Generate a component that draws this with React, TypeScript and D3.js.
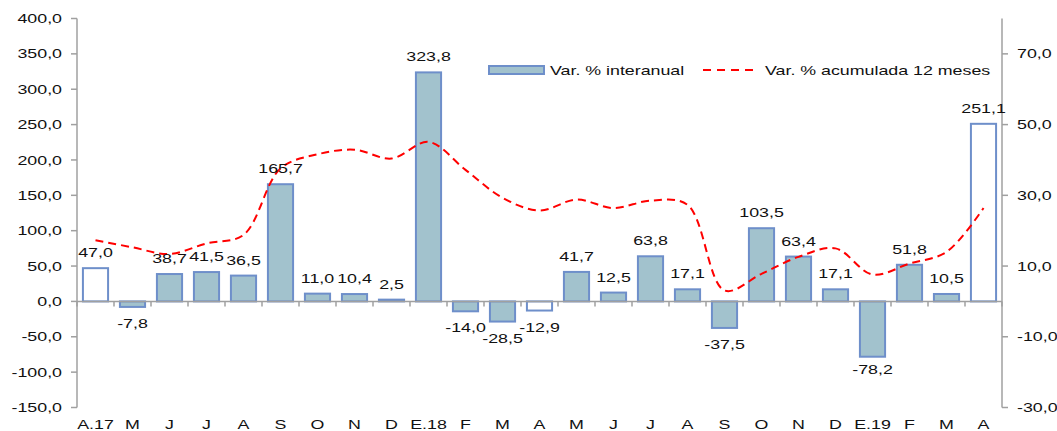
import * as d3 from 'd3';

// months Apr 2017 .. Apr 2019
const categories = ['A.17', 'M', 'J', 'J', 'A', 'S', 'O', 'N', 'D', 'E.18', 'F', 'M', 'A', 'M', 'J', 'J', 'A', 'S', 'O', 'N', 'D', 'E.19', 'F', 'M', 'A'];
const interanual = [47.0, -7.8, 38.7, 41.5, 36.5, 165.7, 11.0, 10.4, 2.5, 323.8, -14.0, -28.5, -12.9, 41.7, 12.5, 63.8, 17.1, -37.5, 103.5, 63.4, 17.1, -78.2, 51.8, 10.5, 251.1];
const acumulada = [17.3, 15.3, 13.4, 16.4, 18.8, 37.6, 41.6, 42.9, 40.4, 45.1, 37.2, 29.3, 25.7, 28.8, 26.4, 28.5, 27.3, 3.1, 7.8, 12.6, 15.0, 7.6, 10.7, 14.0, 26.4];
const hollow = [0, 12, 24];
const leftTicks = [-150, -100, -50, 0, 50, 100, 150, 200, 250, 300, 350, 400];
const rightTicks = [-30, -10, 10, 30, 50, 70];
const seriesNames = ['Var. % interanual', 'Var. % acumulada 12 meses'];

const W = 1057;
const H = 431;
const X0 = 77;
const X1 = 1002;
const TOP = 18.5;
const BOTTOM = 407.5;
const SX = 1.37; // text in the source is stretched horizontally
const FONT = '"Liberation Sans", Arial, sans-serif';
const AXIS = '#a0a0a0';
const BAR_FILL = '#a2c2cd';
const BAR_STROKE = '#6e8fca';
const RED = '#ff0000';

const fmt = (v: number) => v.toFixed(1).replace('.', ',');

function Txt({ x, y, anchor = 'middle', children }: { x: number; y: number; anchor?: string; children: any }) {
  return (
    <text
      transform={`translate(${x},${y}) scale(${SX},1)`}
      textAnchor={anchor}
      fontFamily={FONT}
      fontSize={13}
      fill="#111"
    >
      {children}
    </text>
  );
}

export default function App() {
  const x = d3.scaleBand<number>()
    .domain(categories.map((_, i) => i))
    .range([X0, X1])
    .paddingInner(0.32)
    .paddingOuter(0.16);
  const yL = d3.scaleLinear().domain([-150, 400]).range([BOTTOM, TOP]);
  const yR = d3.scaleLinear().domain([-30, 80]).range([BOTTOM, TOP]);
  const step = x.step();
  const cx = (i: number) => (x(i) as number) + x.bandwidth() / 2;
  const zeroY = yL(0);

  const line = d3.line<number>()
    .x((_, i) => cx(i))
    .y(d => yR(d))
    .curve(d3.curveCatmullRom.alpha(0.5));

  const boundaries = d3.range(categories.length + 1).map(i => X0 + i * step);

  return (
    <div style={{ position: 'fixed', left: 0, top: 0 }}>
      <svg width={W} height={H} style={{ display: 'block', background: '#fff' }}>
        {/* left axis */}
        <line x1={X0} x2={X0} y1={TOP} y2={BOTTOM} stroke={AXIS} strokeWidth={1.5} />
        {leftTicks.map(t => (
          <g key={'l' + t}>
            <line x1={X0 - 6} x2={X0} y1={yL(t)} y2={yL(t)} stroke={AXIS} strokeWidth={1.5} />
            <Txt x={62} y={yL(t) + 4.6} anchor="end">{fmt(t)}</Txt>
          </g>
        ))}

        {/* right axis */}
        <line x1={X1} x2={X1} y1={TOP} y2={BOTTOM} stroke={AXIS} strokeWidth={1.5} />
        {rightTicks.map(t => (
          <g key={'r' + t}>
            <line x1={X1} x2={X1 + 6} y1={yR(t)} y2={yR(t)} stroke={AXIS} strokeWidth={1.5} />
            <Txt x={1017} y={yR(t) + 4.6} anchor="start">{fmt(t)}</Txt>
          </g>
        ))}

        {/* bars */}
        {interanual.map((v, i) => {
          const y0 = Math.min(yL(v), zeroY);
          const h = Math.abs(yL(v) - zeroY);
          return (
            <rect
              key={'b' + i}
              x={x(i)}
              y={y0}
              width={x.bandwidth()}
              height={h}
              fill={hollow.includes(i) ? '#fff' : BAR_FILL}
              stroke={BAR_STROKE}
              strokeWidth={2}
            />
          );
        })}

        {/* category axis */}
        <line x1={X0} x2={X1} y1={zeroY} y2={zeroY} stroke={AXIS} strokeWidth={1.5} />
        {boundaries.map((bx, i) => (
          <line key={'t' + i} x1={bx} x2={bx} y1={zeroY} y2={zeroY + 5} stroke={AXIS} strokeWidth={1.5} />
        ))}

        {/* accumulated line */}
        <path d={line(acumulada) || ''} fill="none" stroke={RED} strokeWidth={2} strokeDasharray="8,5" />

        {/* value labels */}
        {interanual.map((v, i) => (
          <Txt key={'v' + i} x={cx(i)} y={v >= 0 ? yL(v) - 11 : Math.min(yL(v) + 21, 374)}>{fmt(v)}</Txt>
        ))}

        {/* category labels */}
        {categories.map((c, i) => (
          <Txt key={'c' + i} x={cx(i)} y={429}>{c}</Txt>
        ))}

        {/* legend */}
        <rect x={489} y={66} width={55} height={8} fill={BAR_FILL} stroke={BAR_STROKE} strokeWidth={2} />
        <Txt x={550} y={74.6} anchor="start">{seriesNames[0]}</Txt>
        <line x1={703} x2={757} y1={70} y2={70} stroke={RED} strokeWidth={2} strokeDasharray="8,6" />
        <Txt x={765} y={74.6} anchor="start">{seriesNames[1]}</Txt>
      </svg>
    </div>
  );
}
